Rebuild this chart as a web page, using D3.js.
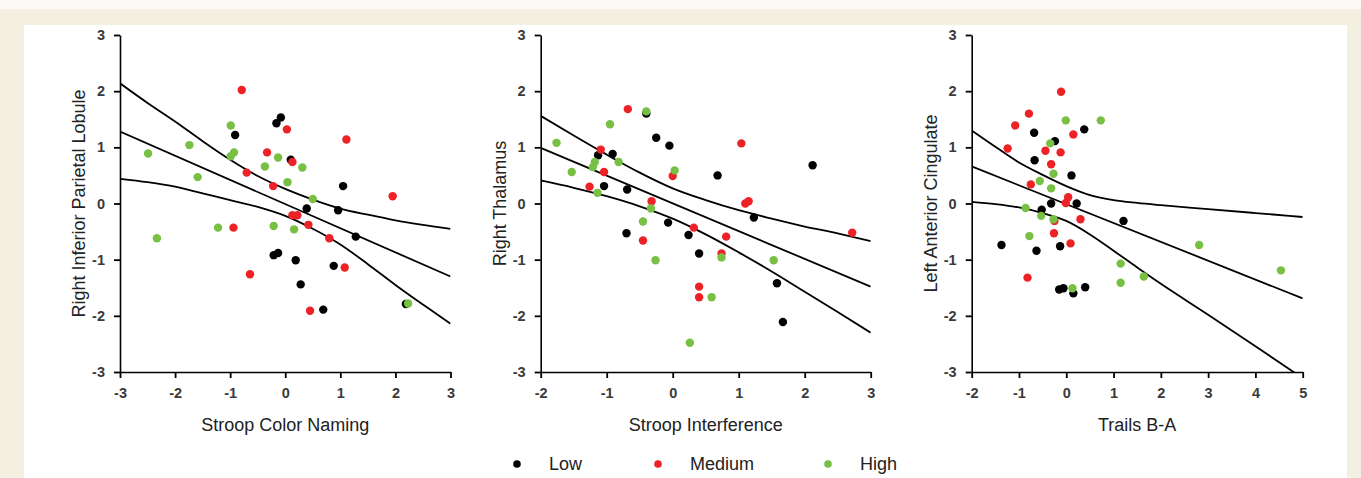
<!DOCTYPE html>
<html>
<head>
<meta charset="utf-8">
<script src="https://cdn.jsdelivr.net/npm/d3@7"></script>
<style>
  body { margin: 0; background: #fff; }
  svg { display: block; font-family: "Liberation Sans", Arial, sans-serif; }
</style>
</head>
<body>
<div id="chart"></div>
<script>
// values

// Panel 1: Stroop Color Naming vs Right Inferior Parietal Lobule
const low1X  = [-0.91, -0.16, -0.08, 0.10, -0.21, -0.13, 0.19, 0.28, 0.39, 0.69, 0.88, 0.96, 1.05, 1.28, 2.19];
const low1Y  = [1.22, 1.43, 1.53, 0.78, -0.92, -0.88, -1.01, -1.44, -0.09, -1.89, -1.11, -0.12, 0.31, -0.59, -1.79];
const med1X  = [-0.79, 0.03, 1.11, -0.33, 0.13, -0.70, -0.22, 1.95, 0.13, 0.22, 0.42, -0.94, 0.80, 1.08, -0.64, 0.45];
const med1Y  = [2.02, 1.32, 1.14, 0.91, 0.74, 0.55, 0.31, 0.13, -0.21, -0.21, -0.38, -0.43, -0.62, -1.14, -1.26, -1.91];
const high1X = [-2.49, -2.33, -1.74, -1.59, -1.22, -0.99, -0.99, -0.93, -0.37, -0.13, -0.21, 0.04, 0.31, 0.16, 0.50, 2.23];
const high1Y = [0.89, -0.62, 1.04, 0.47, -0.43, 1.39, 0.84, 0.91, 0.66, 0.82, -0.40, 0.38, 0.64, -0.46, 0.08, -1.78];

// Panel 2: Stroop Interference vs Right Thalamus
const low2X  = [-1.13, -0.91, -1.04, -0.69, -0.70, -0.40, -0.25, -0.05, -0.07, 0.24, 0.40, 0.68, 1.23, 1.58, 1.67, 2.12];
const low2Y  = [0.86, 0.88, 0.31, 0.25, -0.53, 1.60, 1.17, 1.03, -0.34, -0.56, -0.89, 0.50, -0.25, -1.42, -2.11, 0.68];
const med2X  = [-0.68, -1.09, -1.04, -1.26, -0.32, -0.45, 0.00, 1.04, 1.10, 1.15, 0.32, 0.81, 0.74, 0.40, 0.40, 2.72];
const med2Y  = [1.68, 0.96, 0.56, 0.30, 0.04, -0.66, 0.49, 1.07, 0.00, 0.04, -0.43, -0.59, -0.89, -1.48, -1.67, -0.52];
const high2X = [-1.76, -1.53, -1.21, -1.18, -1.14, -0.95, -0.82, -0.40, 0.03, -0.45, -0.33, -0.26, 0.26, 0.59, 0.74, 1.53];
const high2Y = [1.08, 0.56, 0.65, 0.74, 0.19, 1.41, 0.74, 1.64, 0.59, -0.32, -0.09, -1.01, -2.48, -1.67, -0.96, -1.01];

// Panel 3: Trails B-A vs Left Anterior Cingulate
const low3X  = [-0.68, -0.67, -0.24, 0.11, 0.38, -0.32, -0.52, 0.22, -1.37, -0.63, -0.13, -0.15, -0.06, 0.15, 0.40, 1.21];
const low3Y  = [1.26, 0.77, 1.11, 0.50, 1.32, 0.00, -0.11, 0.00, -0.74, -0.84, -0.76, -1.53, -1.51, -1.60, -1.49, -0.31];
const med3X  = [-1.24, -1.08, -0.79, -0.75, -0.82, -0.44, -0.32, -0.11, -0.12, 0.15, -0.25, -0.26, -0.01, 0.04, 0.30, 0.09];
const med3Y  = [0.98, 1.39, 1.60, 0.34, -1.32, 0.94, 0.70, 1.99, 0.91, 1.23, -0.31, -0.53, 0.01, 0.11, -0.28, -0.71];
const high3X = [-0.01, 0.73, -0.34, -0.27, -0.56, -0.32, -0.86, -0.53, -0.27, -0.78, 0.13, 1.15, 1.15, 1.64, 2.81, 4.54];
const high3Y = [1.48, 1.48, 1.07, 0.53, 0.40, 0.27, -0.08, -0.22, -0.28, -0.58, -1.51, -1.07, -1.41, -1.30, -0.74, -1.19];

// regression lines (ends) and confidence bands (read at sample x)
const fit1X  = [-3, -2.5, -2, -1.5, -1, -0.5, 0, 0.5, 1, 1.5, 2, 2.5, 3];
const fit1Up = [2.14, 1.79, 1.46, 1.11, 0.78, 0.49, 0.26, 0.07, -0.09, -0.20, -0.30, -0.38, -0.45];
const fit1Lo = [0.44, 0.38, 0.30, 0.18, 0.06, -0.06, -0.22, -0.45, -0.73, -1.08, -1.45, -1.80, -2.14];
const fit1Mid = [1.28, -1.30];

const fit2X  = [-2, -1.5, -1, -0.5, 0, 0.5, 1, 1.5, 2, 2.5, 3];
const fit2Up = [1.56, 1.21, 0.87, 0.55, 0.27, 0.06, -0.12, -0.27, -0.41, -0.53, -0.67];
const fit2Lo = [0.41, 0.28, 0.13, -0.05, -0.27, -0.55, -0.87, -1.21, -1.57, -1.93, -2.30];
const fit2Mid = [0.99, -1.48];

const fit3X  = [-2, -1.5, -1, -0.5, 0, 0.5, 1, 1.5, 2, 3, 4, 5];
const fit3Up = [1.30, 1.01, 0.73, 0.51, 0.31, 0.15, 0.06, 0.01, -0.03, -0.10, -0.17, -0.24];
const fit3Lo = [0.03, -0.01, -0.07, -0.17, -0.31, -0.55, -0.84, -1.14, -1.43, -1.98, -2.54, -3.11];
const fit3Mid = [0.66, -1.69];

const groups = ["Low", "Medium", "High"];
const groupColors = ["#000000", "#ec2227", "#78c044"];
const yTicks = [-3, -2, -1, 0, 1, 2, 3];

const width = 1361, height = 478;
const plotTop = 35, plotBottom = 372;

let panels = [
    {left: 120, right: 450.5, xDomain: [-3, 3], xTicks: [-3, -2, -1, 0, 1, 2, 3],
     xTitle: "Stroop Color Naming", yTitle: "Right Inferior Parietal Lobule",
     series: [[low1X, low1Y], [med1X, med1Y], [high1X, high1Y]],
     fitX: fit1X, up: fit1Up, lo: fit1Lo, mid: fit1Mid},
    {left: 540.7, right: 870.7, xDomain: [-2, 3], xTicks: [-2, -1, 0, 1, 2, 3],
     xTitle: "Stroop Interference", yTitle: "Right Thalamus",
     series: [[low2X, low2Y], [med2X, med2Y], [high2X, high2Y]],
     fitX: fit2X, up: fit2Up, lo: fit2Lo, mid: fit2Mid},
    {left: 971.7, right: 1302.7, xDomain: [-2, 5], xTicks: [-2, -1, 0, 1, 2, 3, 4, 5],
     xTitle: "Trails B-A", yTitle: "Left Anterior Cingulate",
     series: [[low3X, low3Y], [med3X, med3Y], [high3X, high3Y]],
     fitX: fit3X, up: fit3Up, lo: fit3Lo, mid: fit3Mid}
];

let svg = d3.select("#chart")
    .append("svg")
    .attr("width", width)
    .attr("height", height);

// page frame
svg.append("rect").attr("x", 0).attr("y", 0).attr("width", width).attr("height", height).attr("fill", "#fbfaf6");
svg.append("rect").attr("x", 0).attr("y", 9).attr("width", width).attr("height", height - 9).attr("fill", "#f3efe1");
svg.append("rect").attr("x", 24).attr("y", 25).attr("width", 1323).attr("height", height - 25).attr("fill", "#ffffff");

let y = d3.scaleLinear().domain([-3, 3]).range([plotBottom, plotTop]);

panels.forEach(function(p, i) {
    let x = d3.scaleLinear().domain(p.xDomain).range([p.left, p.right]);
    let g = svg.append("g");

    // clip for the bands
    svg.append("clipPath").attr("id", "clip" + i)
        .append("rect")
        .attr("x", p.left).attr("y", plotTop)
        .attr("width", p.right - p.left).attr("height", plotBottom - plotTop);

    let xAxis = g.append("g")
        .attr("transform", `translate(0, ${plotBottom})`)
        .call(d3.axisBottom(x).tickValues(p.xTicks).tickFormat(d3.format("d"))
            .tickSize(6).tickSizeOuter(0).tickPadding(10));

    let yAxis = g.append("g")
        .attr("transform", `translate(${p.left}, 0)`)
        .call(d3.axisLeft(y).tickValues(yTicks).tickFormat(d3.format("d"))
            .tickSize(6).tickSizeOuter(0).tickPadding(9));

    [xAxis, yAxis].forEach(function(a) {
        a.attr("font-size", null).attr("font-family", null);
        a.select(".domain").attr("stroke", "#000").attr("stroke-width", 1.6);
        a.selectAll(".tick line").attr("stroke", "#000").attr("stroke-width", 1.8);
        a.selectAll(".tick text")
            .attr("fill", "#3a3a3a")
            .attr("font-weight", "bold")
            .attr("style", "font-size: 14.5px; font-family: 'Liberation Sans', Arial, sans-serif;");
    });
    // d3 uses a true minus sign; the figure uses a hyphen
    g.selectAll(".tick text").text(function(d) { return String(d); });

    // fit lines
    let lines = g.append("g").attr("clip-path", `url(#clip${i})`);
    let band = d3.line()
        .x(function(d) { return x(d[0]); })
        .y(function(d) { return y(d[1]); })
        .curve(d3.curveMonotoneX);

    lines.append("path")
        .datum(d3.zip(p.fitX, p.up))
        .attr("d", band)
        .attr("fill", "none").attr("stroke", "#000").attr("stroke-width", 1.8);
    lines.append("path")
        .datum(d3.zip(p.fitX, p.lo))
        .attr("d", band)
        .attr("fill", "none").attr("stroke", "#000").attr("stroke-width", 1.8);
    lines.append("path")
        .datum(d3.zip(p.xDomain, p.mid))
        .attr("d", d3.line().x(function(d) { return x(d[0]); }).y(function(d) { return y(d[1]); }))
        .attr("fill", "none").attr("stroke", "#000").attr("stroke-width", 1.8);

    // points: low, medium, high in that order
    p.series.forEach(function(s, k) {
        g.append("g").selectAll("circle")
            .data(d3.zip(s[0], s[1]))
            .enter()
            .append("circle")
            .attr("cx", function(d) { return x(d[0]); })
            .attr("cy", function(d) { return y(d[1]); })
            .attr("r", 4.2)
            .attr("fill", groupColors[k]);
    });

    // axis titles
    g.append("text")
        .attr("x", (p.left + p.right) / 2)
        .attr("y", 431)
        .attr("text-anchor", "middle")
        .attr("fill", "#222")
        .style("font-size", "18px")
        .text(p.xTitle);

    g.append("text")
        .attr("transform", `translate(${p.left - 35}, ${(plotTop + plotBottom) / 2}) rotate(-90)`)
        .attr("text-anchor", "middle")
        .attr("fill", "#222")
        .style("font-size", "18px")
        .text(p.yTitle);
});

// legend
const legendDotX = [517, 658, 828];
let legend = svg.append("g");
groups.forEach(function(name, k) {
    legend.append("circle")
        .attr("cx", legendDotX[k]).attr("cy", 464)
        .attr("r", 3.8)
        .attr("fill", groupColors[k]);
    legend.append("text")
        .attr("x", legendDotX[k] + 32).attr("y", 470)
        .attr("fill", "#222")
        .style("font-size", "18px")
        .text(name);
});
</script>
</body>
</html>
